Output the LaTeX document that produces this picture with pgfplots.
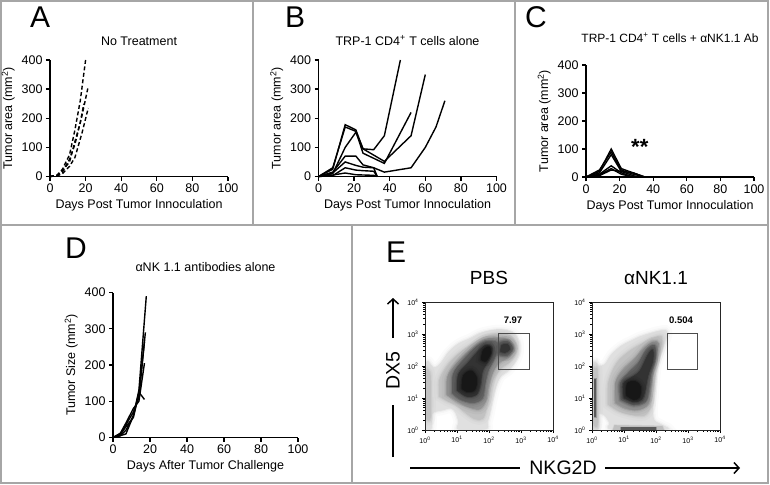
\documentclass[border=0pt]{standalone}
\usepackage{fontspec}
\setmainfont{Liberation Sans}
\usepackage{pgfplots}
\pgfplotsset{compat=1.18}
\usetikzlibrary{arrows.meta}
\newcommand{\fs}[1]{\fontsize{#1}{#1}\selectfont}
\pgfplotscreateplotcyclelist{blk}{black,solid,mark=none,line width=1.4pt\\}
\pgfplotsset{
  growth/.style={scale only axis, axis lines=left, axis line style={line width=1.3pt,-},
    enlargelimits=false, clip=false,
    xmin=0,xmax=100,ymin=0,ymax=400, xtick={0,20,...,100}, ytick={0,100,...,400},
    tick style={line width=1.3pt,black}, major tick length=4pt, tick align=outside,
    tick label style={font=\fs{12.5}},
    label style={font=\fs{12.5}},
    /pgf/number format/assume math mode=true,
    ylabel={Tumor area (mm\textsuperscript{2})},
    xlabel={Days Post Tumor Innoculation},
    title style={font=\fs{12.5}, inner sep=0pt, yshift=8.5pt},
    cycle list name=blk,
  },
  lev/.style={fill=black!#1, draw=black!#1, line width=2.5pt, draw opacity=0.45,
    preaction={draw=black!#1, line width=10pt, draw opacity=0.12},
    preaction={draw=black!#1, line width=5.5pt, draw opacity=0.2},
    smooth, tension=0.55, forget plot},
  levr/.style={fill=black!#1, draw=black!#1, line width=1.5pt, draw opacity=0.4, forget plot},
  flow/.style={scale only axis, width=128pt, height=128pt, xmin=0,xmax=4,ymin=0,ymax=4,
    axis on top, enlargelimits=false,
    axis line style={line width=0.6pt, black!85},
    xtick={0,1,2,3,4}, ytick={0,1,2,3,4},
    xticklabels={10\textsuperscript{0},10\textsuperscript{1},10\textsuperscript{2},10\textsuperscript{3},10\textsuperscript{4}},
    yticklabels={10\textsuperscript{0},10\textsuperscript{1},10\textsuperscript{2},10\textsuperscript{3},10\textsuperscript{4}},
    minor xtick={0.301,0.477,0.602,0.699,0.778,0.845,0.903,0.954,1.301,1.477,1.602,1.699,1.778,1.845,1.903,1.954,2.301,2.477,2.602,2.699,2.778,2.845,2.903,2.954,3.301,3.477,3.602,3.699,3.778,3.845,3.903,3.954},
    minor ytick={0.301,0.477,0.602,0.699,0.778,0.845,0.903,0.954,1.301,1.477,1.602,1.699,1.778,1.845,1.903,1.954,2.301,2.477,2.602,2.699,2.778,2.845,2.903,2.954,3.301,3.477,3.602,3.699,3.778,3.845,3.903,3.954},
    tick pos=left, tick align=outside, tick style={black, line width=0.5pt},
    major tick length=3pt, minor tick length=1.8pt,
    tick label style={font=\fs{7}},
    title style={font=\fs{19}, inner sep=0pt, yshift=11.5pt},
  },
}
\begin{document}
\begin{tikzpicture}
\path[use as bounding box] (0pt,0pt) rectangle (770pt,-484pt);
% frames
\begin{scope}[draw=black!35, line width=1.5pt]
\draw (1pt,-1pt) rectangle (768pt,-483pt);
\draw (1pt,-225pt) -- (768pt,-225pt);
\draw (253pt,-1pt) -- (253pt,-225pt);
\draw (515pt,-1pt) -- (515pt,-225pt);
\draw (352pt,-225pt) -- (352pt,-483pt);
\end{scope}
% panel letters
\node[font=\fs{30}, anchor=base west, inner sep=0pt] at (30pt,-28pt) {A};
\node[font=\fs{30}, anchor=base west, inner sep=0pt] at (285pt,-28pt) {B};
\node[font=\fs{30}, anchor=base west, inner sep=0pt] at (525pt,-28pt) {C};
\node[font=\fs{30}, anchor=base west, inner sep=0pt] at (65pt,-258pt) {D};
\node[font=\fs{30}, anchor=base west, inner sep=0pt] at (386pt,-262pt) {E};

% ---------- A ----------
\begin{axis}[growth, at={(50pt,-176.5pt)}, anchor=south west, width=178pt, height=116.5pt,
  title={No Treatment}]
\addplot[black, line width=1.4pt, dash pattern=on 4pt off 2.5pt] coordinates {(0,0)(4,5)(7,25)(11,75)(14,160)(17,260)(20,400)};
\addplot[black, line width=1.4pt, dash pattern=on 4pt off 2.5pt] coordinates {(0,0)(4,3)(7,15)(11,60)(14,110)(18,210)(21.5,310)};
\addplot[black, line width=1.4pt, dash pattern=on 4pt off 2.5pt] coordinates {(0,0)(4,2)(7,10)(11,35)(14,65)(18,150)(21.5,235)};
\addplot[black, line width=1.4pt, dash pattern=on 4pt off 2.5pt] coordinates {(0,0)(4,4)(7,20)(11,50)(14,120)(17,185)(19,250)};
\end{axis}

% ---------- B ----------
\begin{axis}[growth, at={(318.5pt,-176.5pt)}, anchor=south west, width=178pt, height=116.5pt,
  title={TRP-1 CD4\textsuperscript{+} T cells alone}]
\addplot coordinates {(0,0)(8,25)(15,178)(21,160)(25,95)(31,92)(37,140)(46,400)};
\addplot coordinates {(0,0)(8,30)(15,170)(21,155)(25,80)(37,45)(52,220)};
\addplot coordinates {(0,0)(8,10)(15,100)(21,152)(25,95)(37,52)(52,140)(60,350)};
\addplot coordinates {(0,0)(8,15)(15,70)(21,70)(25,40)(31,30)(37,15)(52,30)(60,100)(66,170)(71,260)};
\addplot coordinates {(0,0)(8,12)(15,50)(21,38)(25,32)(31,30)(33,0)};
\addplot coordinates {(0,0)(8,5)(15,12)(21,6)(31,4)(33,0)};
\addplot coordinates {(0,0)(8,3)(15,30)(21,22)(25,20)(31,18)(33,0)};
\end{axis}

% ---------- C ----------
\begin{axis}[growth, at={(586pt,-177pt)}, anchor=south west, width=168pt, height=112pt,
  title={TRP-1 CD4\textsuperscript{+} T cells + αNK1.1 Ab}, title style={font=\fs{12}, yshift=8pt}]
\addplot coordinates {(0,0)(8,20)(15,100)(21,30)(28,15)(35,0)};
\addplot coordinates {(0,0)(8,25)(15,90)(21,25)(28,10)(35,0)};
\addplot coordinates {(0,0)(8,15)(15,80)(21,20)(28,5)(31,0)};
\addplot coordinates {(0,0)(8,10)(15,40)(21,15)(28,0)};
\addplot coordinates {(0,0)(8,8)(15,30)(21,10)(28,0)};
\addplot coordinates {(0,0)(8,5)(15,25)(21,20)(28,15)(35,0)};
\node[font=\bfseries\fs{22}] at (axis cs:32,108) {**};
\end{axis}

% ---------- D ----------
\begin{axis}[growth, at={(113pt,-437.5pt)}, anchor=south west, width=185pt, height=145pt,
  title={αNK 1.1 antibodies alone}, title style={yshift=6pt},
  ylabel={Tumor Size (mm\textsuperscript{2})}, xlabel={Days After Tumor Challenge}]
\addplot coordinates {(0,0)(4,5)(7,20)(11,60)(14,130)(18,390)};
\addplot coordinates {(0,0)(4,10)(7,35)(11,70)(14,110)(17.5,290)};
\addplot coordinates {(0,0)(4,8)(7,30)(11,55)(14,120)(17,265)};
\addplot coordinates {(0,0)(4,12)(7,40)(11,80)(14,100)(17,205)};
\addplot coordinates {(0,0)(4,5)(7,10)(11,60)(14,125)(17,105)};
\end{axis}

% ---------- E : PBS ----------
\begin{axis}[flow, at={(425pt,-430pt)}, anchor=south west, title={PBS}]
\addplot[lev=12] coordinates {(0.03,0.02)(0.03,1.9)(0.09,2.15)(0.2,2.02)(0.32,1.95)(0.5,2.1)(0.75,2.45)(1.05,2.7)(1.4,2.86)(1.7,3.02)(2.0,3.1)(2.3,3.14)(2.6,3.1)(2.82,2.98)(2.93,2.72)(2.93,2.4)(2.8,2.1)(2.6,1.85)(2.35,1.65)(2.2,1.3)(2.1,0.9)(2.02,0.5)(1.95,0.22)(1.9,0.03)(1.05,0.02)(1.05,0.25)(0.95,0.55)(0.8,0.68)(0.55,0.62)(0.35,0.58)(0.22,0.5)(0.2,0.05)(0.03,0.02)} -- cycle;
\addplot[lev=24] coordinates {(0.05,0.35)(0.05,1.75)(0.12,1.85)(0.17,1.6)(0.17,0.4)(0.05,0.35)} -- cycle;
\addplot[lev=24] coordinates {(0.45,1.05)(0.45,1.55)(0.65,1.95)(0.9,2.25)(1.2,2.5)(1.55,2.72)(1.9,2.92)(2.3,3.0)(2.65,2.95)(2.83,2.72)(2.82,2.38)(2.6,2.08)(2.35,1.9)(2.12,1.55)(2.02,1.1)(1.93,0.7)(1.8,0.35)(1.55,0.35)(1.25,0.55)(0.95,0.8)(0.7,0.9)(0.45,1.05)} -- cycle;
\addplot[lev=42] coordinates {(0.68,1.1)(0.7,1.65)(1.0,2.1)(1.42,2.5)(1.8,2.8)(2.2,2.88)(2.6,2.82)(2.76,2.55)(2.62,2.28)(2.32,2.1)(2.12,1.8)(1.98,1.35)(1.9,0.9)(1.7,0.65)(1.35,0.72)(1.0,0.9)(0.68,1.1)} -- cycle;
\addplot[lev=62] coordinates {(0.85,1.15)(0.88,1.75)(1.2,2.2)(1.6,2.6)(1.95,2.78)(2.25,2.72)(2.2,2.3)(2.0,1.9)(1.88,1.45)(1.8,1.0)(1.5,0.85)(1.1,0.95)(0.85,1.15)} -- cycle;
\addplot[lev=62] coordinates {(2.28,2.36)(2.3,2.7)(2.58,2.77)(2.74,2.55)(2.56,2.32)(2.28,2.36)} -- cycle;
\addplot[lev=80] coordinates {(1.0,1.25)(1.05,1.75)(1.35,2.1)(1.65,2.45)(1.9,2.65)(2.1,2.55)(2.0,2.2)(1.8,1.85)(1.72,1.4)(1.6,1.1)(1.3,1.05)(1.0,1.25)} -- cycle;
\addplot[lev=80] coordinates {(2.36,2.45)(2.4,2.65)(2.58,2.68)(2.65,2.52)(2.5,2.42)(2.36,2.45)} -- cycle;
\addplot[lev=91] coordinates {(1.15,1.3)(1.2,1.7)(1.45,1.85)(1.62,1.6)(1.55,1.25)(1.3,1.2)(1.15,1.3)} -- cycle;
\addplot[lev=91] coordinates {(1.75,2.2)(1.82,2.5)(2.0,2.6)(2.05,2.4)(1.9,2.15)(1.75,2.2)} -- cycle;
\addplot[draw=black!70, line width=0.6pt, forget plot] coordinates {(2.29,1.89)(3.27,1.89)(3.27,3.03)(2.29,3.03)(2.29,1.89)};
\node[font=\bfseries\fs{9.5}] at (axis cs:2.75,3.43) {7.97};
\end{axis}

% ---------- E : aNK1.1 ----------
\begin{axis}[flow, at={(592pt,-430pt)}, anchor=south west, title={αNK1.1}]
\addplot[lev=12] coordinates {(0.03,0.02)(0.03,1.9)(0.1,2.12)(0.2,2.0)(0.4,2.05)(0.6,2.35)(0.9,2.62)(1.2,2.78)(1.5,2.92)(1.8,3.02)(2.1,3.1)(2.3,3.12)(2.36,3.0)(2.26,2.7)(2.12,2.3)(2.02,1.95)(1.97,1.5)(1.93,1.0)(1.9,0.6)(1.95,0.3)(2.2,0.15)(2.3,0.02)(0.62,0.02)(0.55,0.22)(0.4,0.45)(0.22,0.5)(0.2,0.05)(0.03,0.02)} -- cycle;
\addplot[lev=24] coordinates {(0.05,0.2)(0.05,1.8)(0.12,1.9)(0.17,1.8)(0.17,0.2)(0.05,0.2)} -- cycle;
\addplot[lev=24] coordinates {(0.5,0.8)(0.52,1.5)(0.78,2.1)(1.18,2.47)(1.6,2.72)(1.9,2.87)(2.17,2.92)(2.16,2.6)(2.02,2.2)(1.92,1.8)(1.87,1.2)(1.82,0.7)(1.62,0.45)(1.2,0.48)(0.8,0.6)(0.5,0.8)} -- cycle;
\addplot[levr=25] coordinates {(0.65,0.0)(0.7,0.15)(2.2,0.12)(2.25,0.0)} -- cycle;
\addplot[lev=42] coordinates {(0.72,0.85)(0.74,1.5)(0.96,1.88)(1.32,2.22)(1.62,2.55)(1.9,2.75)(2.08,2.7)(1.98,2.25)(1.89,1.8)(1.84,1.3)(1.75,0.8)(1.42,0.62)(1.02,0.68)(0.72,0.85)} -- cycle;
\addplot[levr=65] coordinates {(0.07,0.4)(0.07,1.6)(0.14,1.6)(0.14,0.4)} -- cycle;
\addplot[levr=65] coordinates {(0.9,0.0)(0.9,0.08)(2.0,0.08)(2.0,0.0)} -- cycle;
\addplot[lev=62] coordinates {(0.9,0.95)(0.88,1.45)(1.15,1.8)(1.45,2.1)(1.7,2.5)(1.95,2.65)(1.98,2.25)(1.85,1.8)(1.78,1.3)(1.68,0.9)(1.3,0.78)(0.9,0.95)} -- cycle;
\addplot[lev=80] coordinates {(1.0,1.0)(0.98,1.45)(1.25,1.65)(1.5,1.85)(1.75,2.35)(1.9,2.5)(1.9,2.15)(1.75,1.7)(1.65,1.2)(1.55,0.95)(1.3,0.88)(1.0,1.0)} -- cycle;
\addplot[lev=91] coordinates {(1.08,1.08)(1.1,1.45)(1.35,1.52)(1.52,1.35)(1.48,1.02)(1.3,0.95)(1.08,1.08)} -- cycle;
\addplot[draw=black!70, line width=0.6pt, forget plot] coordinates {(2.34,1.89)(3.29,1.89)(3.29,3.03)(2.34,3.03)(2.34,1.89)};
\node[font=\bfseries\fs{9.5}] at (axis cs:2.78,3.43) {0.504};
\end{axis}

% axis annotations for E
\draw[line width=1.5pt] (393pt,-457pt) -- (393pt,-405pt);
\draw[line width=1.5pt, -{Straight Barb[length=5pt,width=11pt]}] (393pt,-338pt) -- (393pt,-298pt);
\node[font=\fs{19.5}, rotate=90] at (393pt,-371pt) {DX5};
\draw[line width=1.5pt] (410pt,-468pt) -- (520pt,-468pt);
\draw[line width=1.5pt, -{Straight Barb[length=5pt,width=11pt]}] (605pt,-468pt) -- (740pt,-468pt);
\node[font=\fs{19.5}] at (563pt,-468pt) {NKG2D};
\end{tikzpicture}
\end{document}
